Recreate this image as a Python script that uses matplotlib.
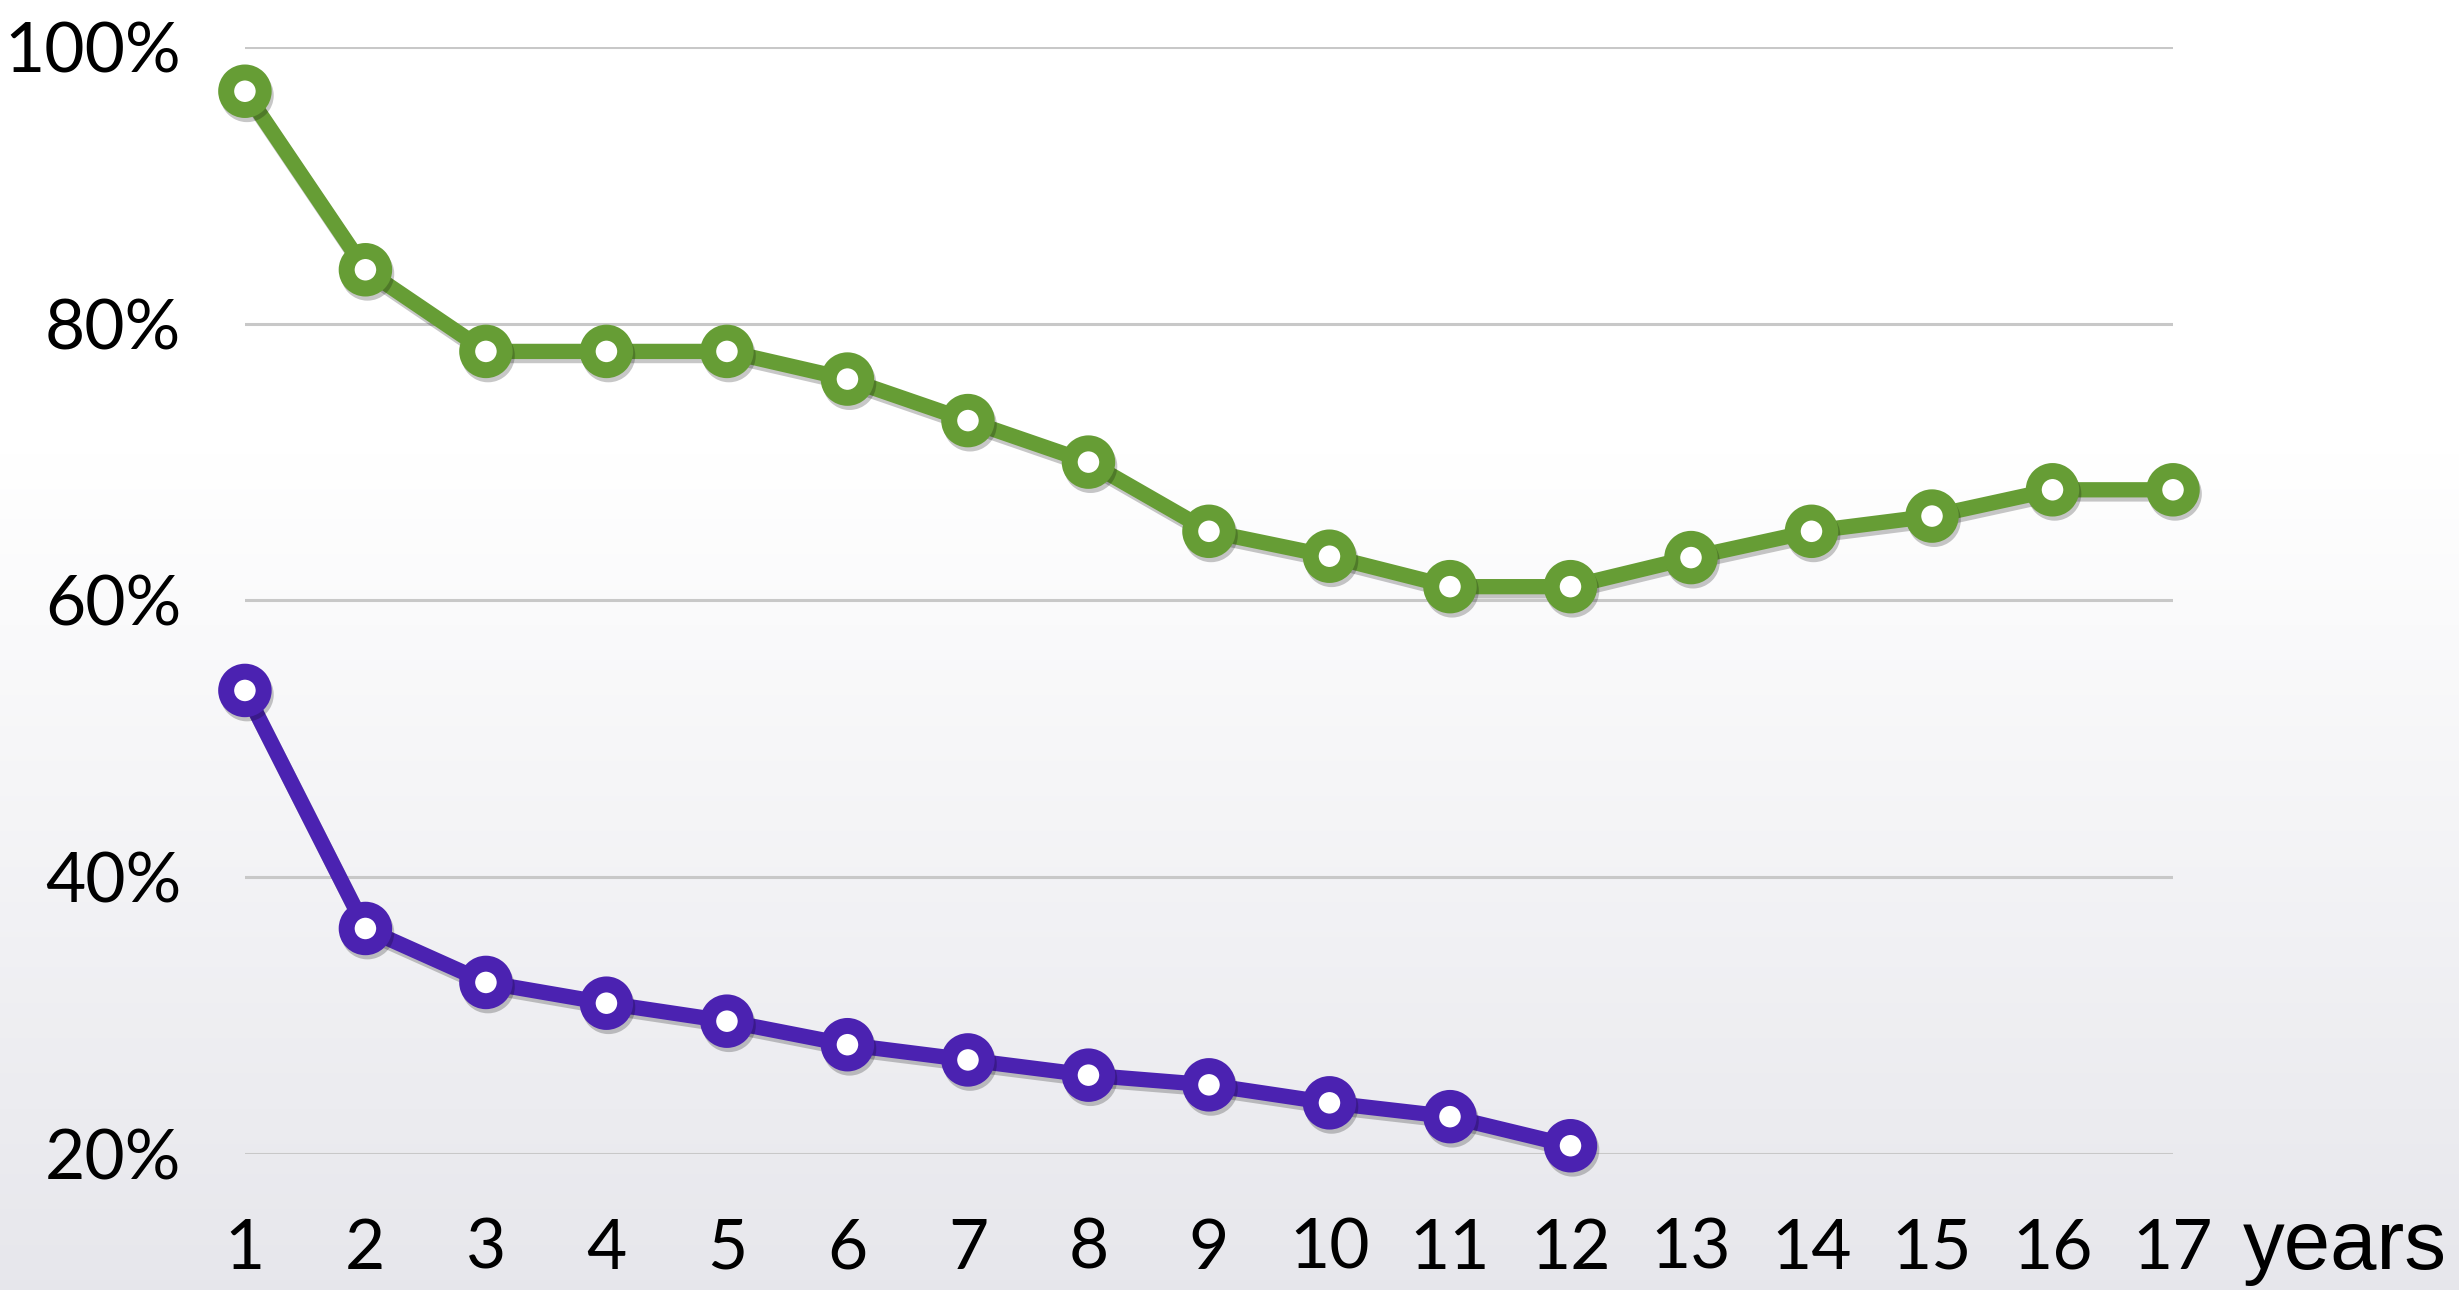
import numpy as np
import matplotlib
matplotlib.use("Agg")
import matplotlib.pyplot as plt
import matplotlib.patheffects as pe

years = list(range(1, 18))
green_vals = [96.8, 83.9, 78, 78, 78, 76, 73, 70, 65, 63.2, 61, 61, 63.1, 65, 66.1, 68, 68]
purple_years = list(range(1, 13))
purple_vals = [53.5, 36.3, 32.4, 30.9, 29.6, 27.9, 26.8, 25.7, 25.0, 23.7, 22.7, 20.6]
ytick_vals = [20, 40, 60, 80, 100]
ytick_labels = ["20%", "40%", "60%", "80%", "100%"]

green = "#669d35"
purple = "#4b22b1"

fig = plt.figure(figsize=(24.59, 12.9), dpi=100)

# background gradient: white at top to light grey at bottom
bg = fig.add_axes([0, 0, 1, 1], zorder=-10)
grad = np.linspace(0, 1, 256).reshape(-1, 1)
top = np.array([1.0, 1.0, 1.0])
bottom = np.array([0.905, 0.905, 0.925])
w = np.clip((grad - 0.35) / 0.65, 0, 1)
img = top + (bottom - top) * w[..., None]
bg.imshow(img, aspect="auto", extent=[0, 1, 0, 1], origin="upper")
bg.axis("off")

ax = fig.add_axes([0.0996, 0.1054, 0.7841, 0.8582])
ax.patch.set_alpha(0)
ax.set_xlim(1, 17)
ax.set_ylim(20, 100)

shadow = [pe.SimpleLineShadow(offset=(1.5, -3), shadow_color="#000000", alpha=0.22), pe.Normal()]

for xs, ys, c in [(years, green_vals, green), (purple_years, purple_vals, purple)]:
    ax.plot(xs, ys, color=c, lw=11, marker="o", markersize=27,
            markeredgewidth=11.5, markerfacecolor="white", markeredgecolor=c,
            clip_on=False, zorder=5, path_effects=shadow)

ax.set_yticks(ytick_vals)
ax.set_yticklabels(ytick_labels)
ax.set_xticks(years)
ax.set_xticklabels([str(y) for y in years])
ax.yaxis.grid(True, color="#c8c8c8", lw=2.2)
ax.set_axisbelow(True)
ax.tick_params(length=0, labelsize=50, colors="black")
ax.tick_params(axis="y", pad=46)
ax.tick_params(axis="x", pad=46)
for lab in ax.get_xticklabels() + ax.get_yticklabels():
    lab.set_family("Lato")
for s in ax.spines.values():
    s.set_visible(False)

fig.text(0.912, 0.016, "years", fontsize=60, family="Liberation Sans",
         ha="left", va="baseline", color="black")

fig.savefig("out.png", dpi=100)
